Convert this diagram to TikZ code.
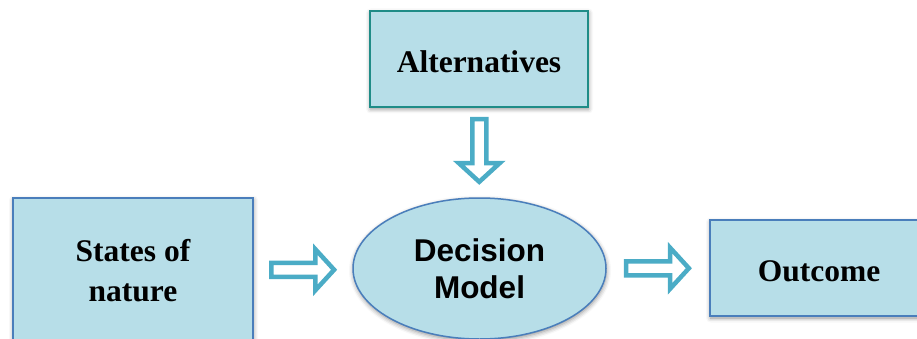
\documentclass[tikz,border=0pt]{standalone}
\usepackage{fontspec}
\setmainfont{Liberation Serif}
\newfontfamily\labelsans{Liberation Sans}
\usetikzlibrary{shapes.geometric,shadows.blur,calc}

\definecolor{boxfill}{HTML}{B7DEE8}
\definecolor{tealline}{HTML}{1F8C87}
\definecolor{blueline}{HTML}{4A7EBB}
\definecolor{arrowline}{HTML}{4BACC6}

\tikzset{
  softshadow/.style={blur shadow={shadow xshift=0.5pt,shadow yshift=-2pt,
      shadow blur radius=4.5pt,shadow opacity=45}},
  infobox/.style={rectangle, fill=boxfill, draw=blueline, line width=2pt,
      inner sep=0pt, softshadow, align=center,
      font=\fontsize{31.5}{40}\selectfont\bfseries},
  modelshape/.style={ellipse, fill=boxfill, draw=blueline, line width=1.5pt,
      inner sep=0pt, softshadow, align=center,
      font=\fontsize{31.5}{36.6}\selectfont\labelsans\bfseries},
  % outlined block arrow, centred on its own midpoint, pointing along +x
  pics/hollow arrow/.style={code={
      \draw[arrowline, line width=4.5pt, fill=white, line join=miter]
        (-31.75,7) -- (12.25,7) -- (12.25,20.5) -- (31,0)
        -- (12.25,-20.5) -- (12.25,-7) -- (-31.75,-7) -- cycle;}},
}

\begin{document}
\begin{tikzpicture}[x=1pt,y=1pt]
  \useasboundingbox (0,0) rectangle (917,338);

  \node[infobox, draw=tealline, line width=2.8pt, minimum width=218,
        minimum height=96, text height=27pt, text depth=0pt]
        (alt) at (479,279) {Alternatives};
  \node[infobox, minimum width=240, minimum height=146]
        (states) at (133,67) {States of\\nature};
  \node[modelshape, minimum width=253, minimum height=141]
        (model) at (479.5,69.5) {Decision\\Model};
  \node[infobox, minimum width=218, minimum height=96,
        text height=27pt, text depth=0pt]
        (outcome) at (819,70) {Outcome};

  \pic at ($(states.east)!0.5!(model.west)$) {hollow arrow};
  \pic at ($(model.east)!0.5!(outcome.west)$) {hollow arrow};
  \pic[rotate=-90] at ($(alt.south)!0.5!(model.north)+(0,2)$) {hollow arrow};
\end{tikzpicture}
\end{document}
